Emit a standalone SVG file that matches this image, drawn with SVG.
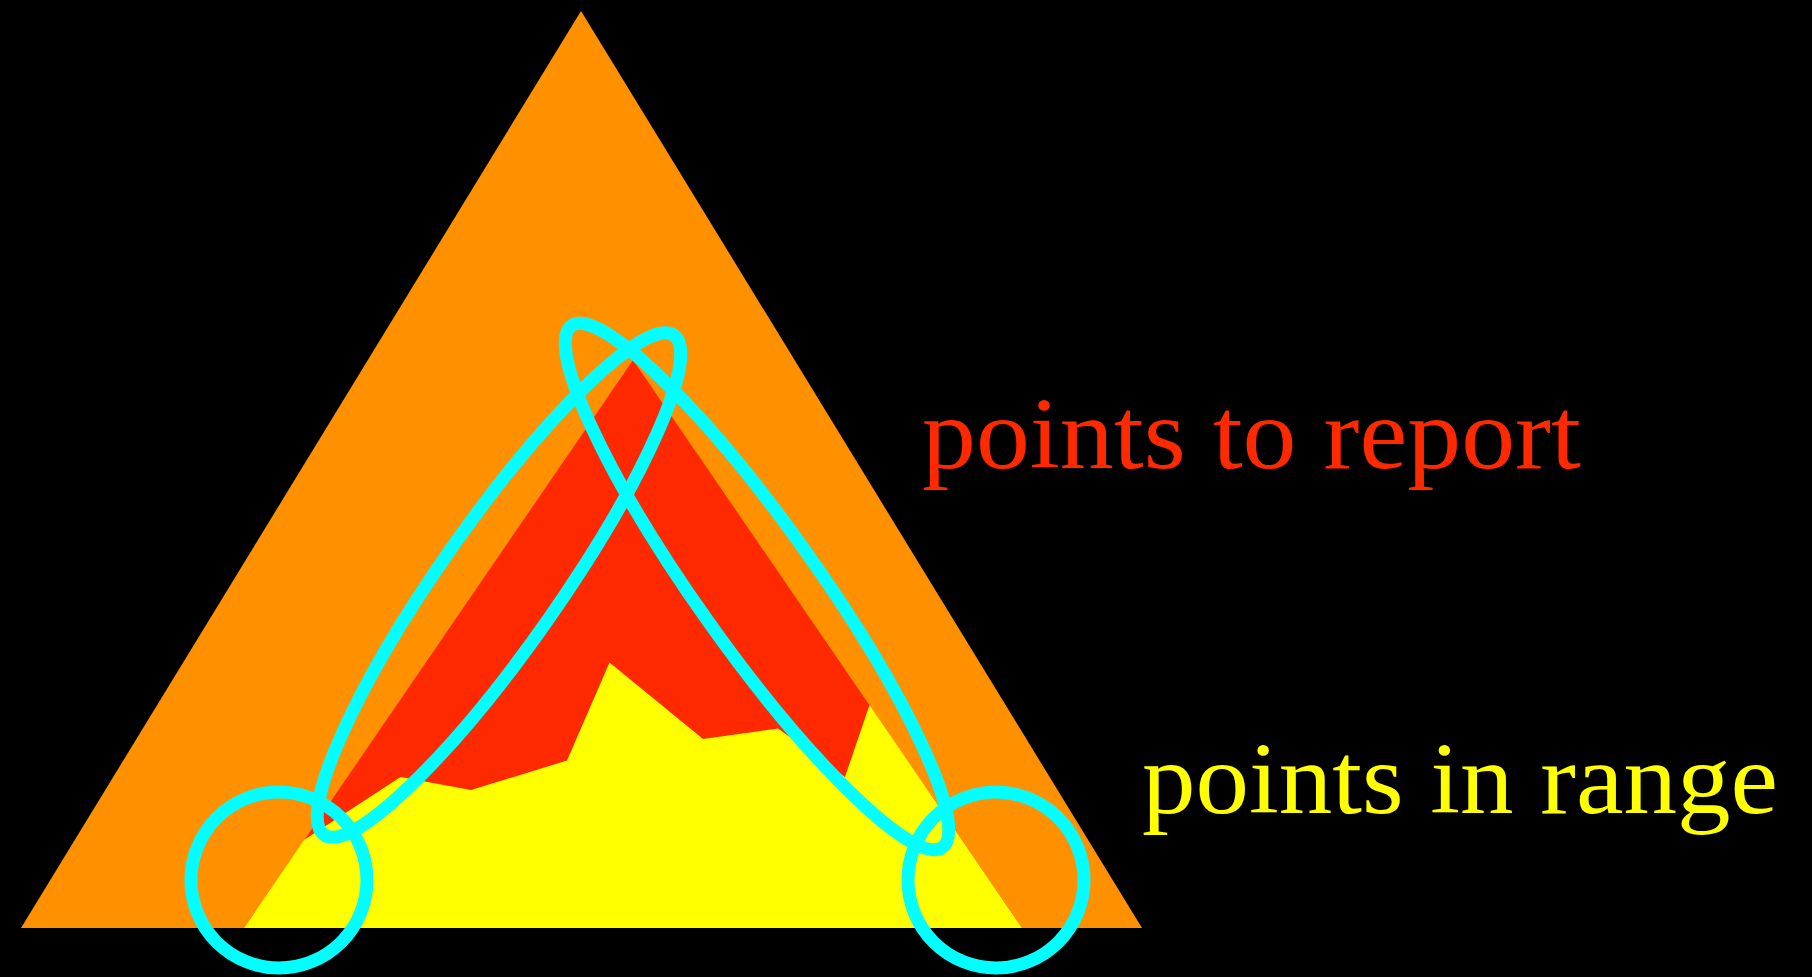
<svg xmlns="http://www.w3.org/2000/svg" width="1812" height="977" viewBox="0 0 1812 977">
<style>
.ring{fill:none;stroke:#00FFFF;stroke-width:13}
.lbl{font-family:"Liberation Serif","Times New Roman",serif;font-size:101px}
</style>
<rect x="0" y="0" width="1812" height="977" fill="#000000"/>
<g id="outer-triangle">
<polygon points="581,11 21,928 1142,928" fill="#FF9100"/>
</g>
<g id="report-region">
<polygon points="633,360 244,928 1022,928" fill="#FF2900"/>
</g>
<g id="range-region">
<polygon points="244,928 304,840 400.5,777 471,790 567,760.5 609.5,662.5 703,739 778,728.5 845,777 869.5,705 1022,928" fill="#FFFF00"/>
</g>
<g id="connectors">
<ellipse id="ellipse-left" class="ring" cx="499" cy="585" rx="305" ry="60" transform="rotate(-55 499 585)"/>
<ellipse id="ellipse-right" class="ring" cx="757" cy="586.5" rx="320" ry="60" transform="rotate(54.6 757 586.5)"/>
<circle id="circle-left" class="ring" cx="279" cy="880" r="88"/>
<circle id="circle-right" class="ring" cx="996" cy="880" r="88"/>
</g>
<g id="label-report">
<text class="lbl" x="922" y="468" fill="#FF2900" textLength="659" lengthAdjust="spacingAndGlyphs">points to report</text>
</g>
<g id="label-range">
<text class="lbl" x="1142" y="813" fill="#FFFF00" textLength="636" lengthAdjust="spacingAndGlyphs">points in range</text>
</g>
</svg>
